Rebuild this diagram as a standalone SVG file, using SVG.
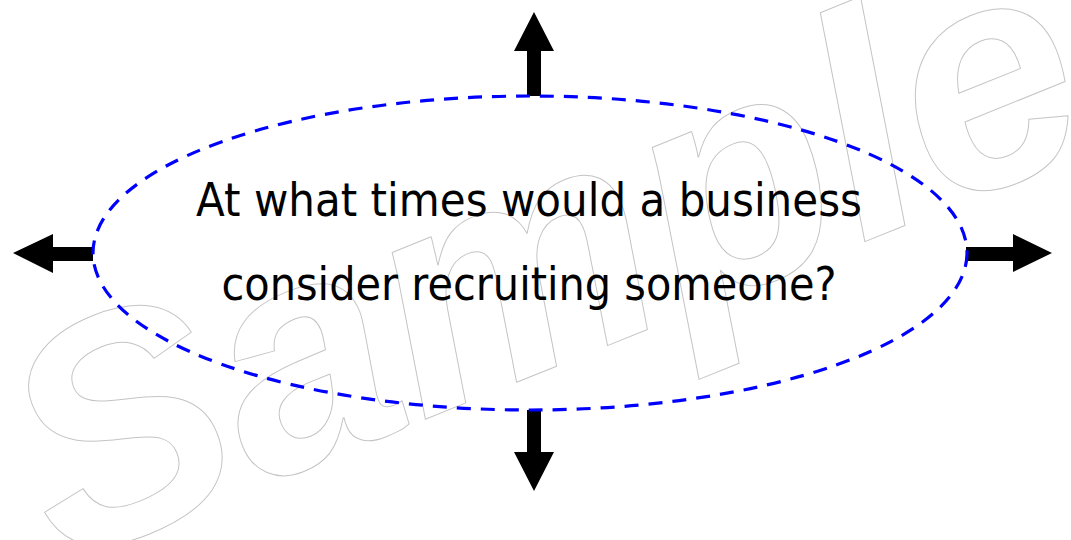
<svg xmlns="http://www.w3.org/2000/svg" width="1071" height="540" viewBox="0 0 1071 540">
  <style>
    .watermark { font-family: "Liberation Sans", Arial, sans-serif; font-weight: bold; font-style: italic; font-size: 316px; fill: none; stroke: #c4c4c4; stroke-width: 1; stroke-linejoin: round; }
    .label { font-family: "DejaVu Sans", Tahoma, sans-serif; font-size: 46px; fill: #000; }
    .arrow { fill: #000; stroke: none; }
    .outline { fill: none; stroke: #0000ff; stroke-width: 3.2; stroke-dasharray: 14 10; }
  </style>
  <rect width="1071" height="540" fill="#fff"/>

  <!-- outlined watermark lettering -->
  <text class="watermark" x="62" y="566" transform="rotate(-22 62 566)">Sample</text>

  <!-- four outward arrows -->
  <g id="connectors">
    <polygon class="arrow" points="527,96 527,51 514,51 534,12 554,51 541,51 541,96"/>
    <polygon class="arrow" points="527,410 527,452 514,452 534,491 554,452 541,452 541,410"/>
    <polygon class="arrow" points="93,247 53,247 53,234 13,253 53,273 53,261 93,261"/>
    <polygon class="arrow" points="966,247 1013,247 1013,234 1052,253 1013,272 1013,261 966,261"/>
  </g>

  <!-- central question -->
  <g id="question">
    <ellipse class="outline" cx="530" cy="253" rx="437" ry="157"/>
    <text class="label" x="529" y="216" text-anchor="middle" textLength="666" lengthAdjust="spacingAndGlyphs">At what times would a business</text>
    <text class="label" x="529" y="300" text-anchor="middle" textLength="615" lengthAdjust="spacingAndGlyphs">consider recruiting someone?</text>
  </g>
</svg>
